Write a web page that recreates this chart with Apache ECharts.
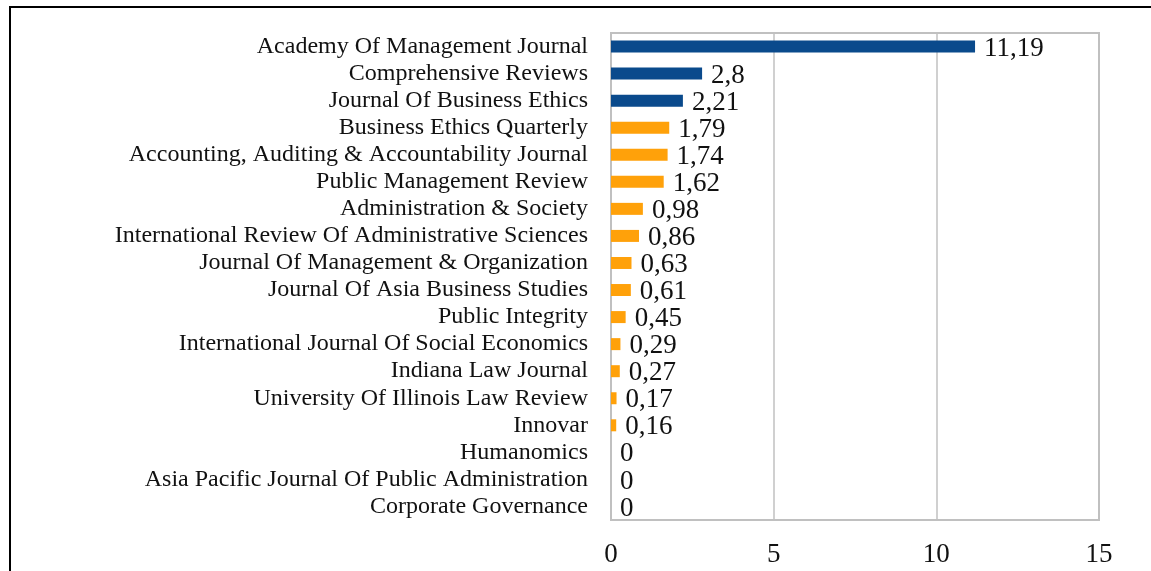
<!DOCTYPE html>
<html>
<head>
<meta charset="utf-8">
<script src="https://cdn.jsdelivr.net/npm/echarts@6/dist/echarts.min.js"></script>
<style>
html,body{margin:0;padding:0;background:#fff;}
#chart{width:1151px;height:571px;}
</style>
</head>
<body>
<div id="chart"></div>
<script>
const categories = [
  "Academy Of Management Journal",
  "Comprehensive Reviews",
  "Journal Of Business Ethics",
  "Business Ethics Quarterly",
  "Accounting, Auditing & Accountability Journal",
  "Public Management Review",
  "Administration & Society",
  "International Review Of Administrative Sciences",
  "Journal Of Management & Organization",
  "Journal Of Asia Business Studies",
  "Public Integrity",
  "International Journal Of Social Economics",
  "Indiana Law Journal",
  "University Of Illinois Law Review",
  "Innovar",
  "Humanomics",
  "Asia Pacific Journal Of Public Administration",
  "Corporate Governance"
];
const values = [11.19, 2.8, 2.21, 1.79, 1.74, 1.62, 0.98, 0.86, 0.63, 0.61, 0.45, 0.29, 0.27, 0.17, 0.16, 0, 0, 0];
const highlightCount = 3;
const xTicks = [0, 5, 10, 15];

const BLUE = '#0a4a8c';
const ORANGE = '#ffa10a';
const FONT = '"Liberation Serif", "Times New Roman", serif';

const chart = echarts.init(document.getElementById('chart'));
chart.setOption({
  animation: false,
  backgroundColor: '#fff',
  graphic: [{
    type: 'rect',
    silent: true,
    shape: { x: 10, y: 7, width: 1300, height: 700 },
    style: { fill: 'none', stroke: '#000', lineWidth: 2 }
  }],
  grid: {
    left: 611, right: 52, top: 33, bottom: 51,
    show: true, borderColor: '#c0c0c0', borderWidth: 2, backgroundColor: 'transparent'
  },
  xAxis: {
    type: 'value',
    min: xTicks[0], max: xTicks[xTicks.length - 1], interval: 5,
    axisLine: { show: false },
    axisTick: { show: false },
    splitLine: { show: true, lineStyle: { color: '#c0c0c0', width: 1.5 } },
    axisLabel: { fontFamily: FONT, fontSize: 27, color: '#111', margin: 21 }
  },
  yAxis: {
    type: 'category',
    data: categories,
    inverse: true,
    axisLine: { show: false },
    axisTick: { show: false },
    axisLabel: { interval: 0, fontFamily: FONT, fontSize: 24, color: '#111', margin: 23 }
  },
  series: [{
    type: 'bar',
    data: values.map((v, i) => ({ value: v, itemStyle: { color: i < highlightCount ? BLUE : ORANGE } })),
    barWidth: 12,
    label: {
      show: true,
      position: 'right',
      distance: 9,
      fontFamily: FONT,
      fontSize: 27,
      color: '#111',
      offset: [0, 2],
      formatter: p => String(p.value).replace('.', ',')
    }
  }]
});
</script>
</body>
</html>
